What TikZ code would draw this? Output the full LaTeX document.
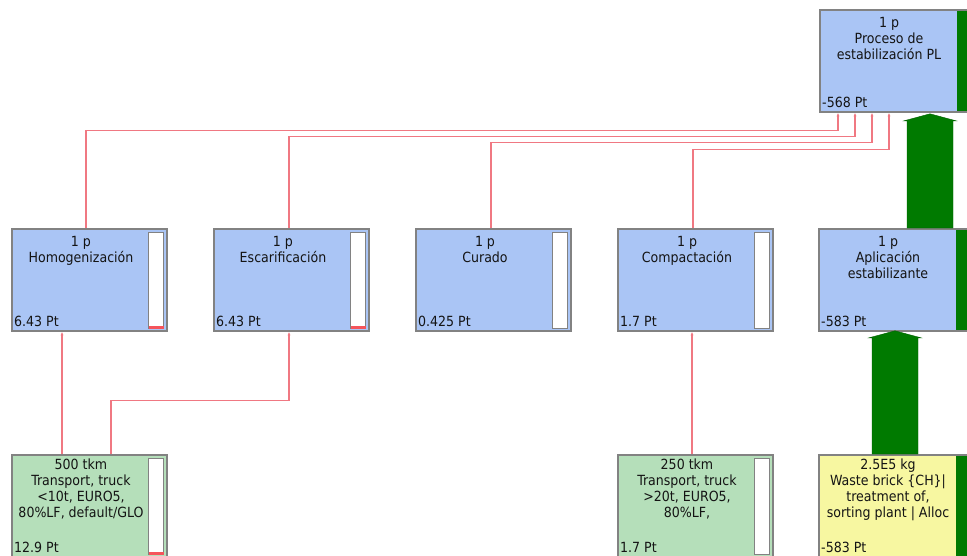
\documentclass[tikz,border=0pt]{standalone}
\usepackage{fontspec}
\setmainfont{DejaVu Sans Condensed}
\usetikzlibrary{calc,arrows.meta}
\definecolor{pblue}{RGB}{170,197,245}
\definecolor{pgreen}{RGB}{181,223,186}
\definecolor{pyellow}{RGB}{247,247,161}
\definecolor{pgray}{RGB}{130,130,130}
\definecolor{pred}{RGB}{240,120,130}
\definecolor{dgreen}{RGB}{0,122,0}
\definecolor{ptext}{RGB}{20,20,20}
\tikzset{
  pbox/.style={draw=pgray, line width=1.8pt, minimum width=155pt, minimum height=102pt, inner sep=0pt, anchor=north west},
  whitebar/.style={draw=pgray, line width=1pt, fill=white},
  ltxt/.style={anchor=base, inner sep=0pt, text=ptext, font=\fontsize{14}{16}\selectfont},
  vtxt/.style={anchor=base west, inner sep=0pt, text=ptext, font=\fontsize{14}{16}\selectfont},
  rl/.style={draw=pred, line width=1.2pt, -{Latex[length=3.5pt,width=3pt]}},
  fat/.style={fill=dgreen, draw=dgreen!80!black, line width=0.4pt}
}
\newcommand\pbox[5]{%
  \node[pbox, fill=#4] (#1) at (#2,#3) {};
  \node[vtxt] (#1v) at ($(#1.south west)+(3,-5)$) {#5};
}
\newcommand\wbar[1]{\draw[whitebar] ($(#1.north east)+(-19,4)$) rectangle ($(#1.south east)+(-4,-3)$);}
\newcommand\rbar[1]{\draw[whitebar] ($(#1.north east)+(-19,4)$) rectangle ($(#1.south east)+(-4,-3)$);
  \fill[pred!70!red] ($(#1.south east)+(-19,-3)$) rectangle ($(#1.south east)+(-4,-5.5)$);}
\newcommand\gbar[1]{\fill[dgreen] ($(#1.north east)+(-19,2)$) rectangle ($(#1.south east)+(-2,-2)$);}
\begin{document}
\begin{tikzpicture}[x=1pt,y=-1pt]
\useasboundingbox (0,0) rectangle (967,555);
% boxes
\pbox{proc}{819}{9}{pblue}{-568 Pt}
\gbar{proc}
\node[ltxt] (proca) at ($(proc.north west)+(70,18)$) {1 p};
\node[ltxt] (procb) at ($(proc.north west)+(70,34)$) {Proceso de};
\node[ltxt] (procc) at ($(proc.north west)+(70,50)$) {estabilización PL};

\pbox{homog}{11}{228}{pblue}{6.43 Pt}
\rbar{homog}
\node[ltxt] (homoga) at ($(homog.north west)+(70,18)$) {1 p};
\node[ltxt] (homogb) at ($(homog.north west)+(70,34)$) {Homogenización};

\pbox{escar}{213}{228}{pblue}{6.43 Pt}
\rbar{escar}
\node[ltxt] (escara) at ($(escar.north west)+(70,18)$) {1 p};
\node[ltxt] (escarb) at ($(escar.north west)+(70,34)$) {Escarificación};

\pbox{curado}{415}{228}{pblue}{0.425 Pt}
\wbar{curado}
\node[ltxt] (curadoa) at ($(curado.north west)+(70,18)$) {1 p};
\node[ltxt] (curadob) at ($(curado.north west)+(70,34)$) {Curado};

\pbox{compact}{617}{228}{pblue}{1.7 Pt}
\wbar{compact}
\node[ltxt] (compacta) at ($(compact.north west)+(70,18)$) {1 p};
\node[ltxt] (compactb) at ($(compact.north west)+(70,34)$) {Compactación};

\pbox{aplic}{818}{228}{pblue}{-583 Pt}
\gbar{aplic}
\node[ltxt] (aplica) at ($(aplic.north west)+(70,18)$) {1 p};
\node[ltxt] (aplicb) at ($(aplic.north west)+(70,34)$) {Aplicación};
\node[ltxt] (aplicc) at ($(aplic.north west)+(70,50)$) {estabilizante};

\pbox{trone}{11}{454}{pgreen}{12.9 Pt}
\rbar{trone}
\node[ltxt] (tronea) at ($(trone.north west)+(70,15)$) {500 tkm};
\node[ltxt] (troneb) at ($(trone.north west)+(70,31)$) {Transport, truck};
\node[ltxt] (tronec) at ($(trone.north west)+(70,47)$) {<10t, EURO5,};
\node[ltxt] (troned) at ($(trone.north west)+(70,63)$) {80\%LF, default/GLO};

\pbox{trtwo}{617}{454}{pgreen}{1.7 Pt}
\wbar{trtwo}
\node[ltxt] (trtwoa) at ($(trtwo.north west)+(70,15)$) {250 tkm};
\node[ltxt] (trtwob) at ($(trtwo.north west)+(70,31)$) {Transport, truck};
\node[ltxt] (trtwoc) at ($(trtwo.north west)+(70,47)$) {>20t, EURO5,};
\node[ltxt] (trtwod) at ($(trtwo.north west)+(70,63)$) {80\%LF,};

\pbox{waste}{818}{454}{pyellow}{-583 Pt}
\gbar{waste}
\node[ltxt] (wastea) at ($(waste.north west)+(70,15)$) {2.5E5 kg};
\node[ltxt] (wasteb) at ($(waste.north west)+(70,31)$) {Waste brick \{CH\}|};
\node[ltxt] (wastec) at ($(waste.north west)+(70,47)$) {treatment of,};
\node[ltxt] (wasted) at ($(waste.north west)+(70,63)$) {sorting plant | Alloc};

% red connectors
\draw[rl] ($(trone.north west)+(51,0)$) -- ($(homog.south west)+(51,0)$);
\draw[rl] ($(trone.north west)+(100,0)$) |- ($(escar.south west)+(76,69)$) -- ($(escar.south west)+(76,0)$);
\draw[rl] ($(trtwo.north west)+(75,0)$) -- ($(compact.south west)+(75,0)$);
\draw[rl] ($(homog.north west)+(75,0)$) |- ($(proc.south west)+(19,18)$) -- ($(proc.south west)+(19,0)$);
\draw[rl] ($(escar.north west)+(76,0)$) |- ($(proc.south west)+(36,24)$) -- ($(proc.south west)+(36,0)$);
\draw[rl] ($(curado.north west)+(76,0)$) |- ($(proc.south west)+(53,30)$) -- ($(proc.south west)+(53,0)$);
\draw[rl] ($(compact.north west)+(76,0)$) |- ($(proc.south west)+(70,37)$) -- ($(proc.south west)+(70,0)$);

% fat green arrows
\fill[fat] ($(aplic.north west)+(89,0)$) -- ($(proc.south west)+(88,8)$) -- ($(proc.south west)+(85,8)$)
  -- ($(proc.south west)+(111,1)$) -- ($(proc.south west)+(137,8)$) -- ($(proc.south west)+(134,8)$)
  -- ($(aplic.north west)+(135,0)$) -- cycle;
\fill[fat] ($(waste.north west)+(54,0)$) -- ($(aplic.south west)+(54,6)$) -- ($(aplic.south west)+(51,6)$)
  -- ($(aplic.south west)+(77,-1)$) -- ($(aplic.south west)+(103,6)$) -- ($(aplic.south west)+(100,6)$)
  -- ($(waste.north west)+(100,0)$) -- cycle;
\end{tikzpicture}
\end{document}
